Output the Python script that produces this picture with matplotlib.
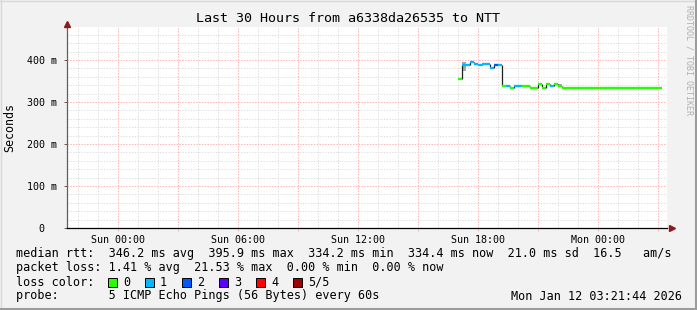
import matplotlib
matplotlib.use('Agg')
import matplotlib.pyplot as plt
import matplotlib.patches as mpatches
from matplotlib.lines import Line2D

W, H = 697, 310
MONO = 'DejaVu Sans Mono'

# median rtt in ms, one value per ~12 min step (hours since Sun 00:00)
step_start = [17.0, 17.2, 17.4, 17.6, 17.8, 18.0, 18.2, 18.4, 18.6, 18.8,
              19.0, 19.2, 19.4, 19.6, 19.8, 20.0, 20.2, 20.4, 20.6, 20.8,
              21.0, 21.2, 21.4, 21.6, 21.8, 22.0, 22.2]
step_end = 27.2
median = [355, 388, 388, 395, 390, 387, 390, 390, 382, 389,
          389, 339, 339, 334, 337, 337, 337, 337, 334, 334,
          344, 334, 344, 337, 342, 339, 334]
loss = [0, 1, 1, 1, 1, 1, 1, 1, 1, 2,
        1, 0, 1, 0, 1, 1, 0, 0, 0, 0,
        0, 0, 0, 1, 0, 0, 0]

# smoke (spread of pings) where visible
smoke_t0 = [17.2, 22.0]
smoke_t1 = [17.4, 22.2]
smoke_lo = [375, 336]
smoke_hi = [396, 342]

loss_colors = ['#26ff00', '#00b8ff', '#0059ff', '#5e00ff', '#ff0000', '#a10000']
loss_labels = ['0', '1', '2', '3', '4', '5/5']

xtick_hours = [0, 3, 6, 9, 12, 15, 18, 21, 24, 27]
xtick_labels = ['Sun 00:00', '', 'Sun 06:00', '', 'Sun 12:00', '', 'Sun 18:00', '', 'Mon 00:00', '']
ytick_vals = [0, 100, 200, 300, 400]
ytick_labels = ['  0  ', '100 m', '200 m', '300 m', '400 m']

title = 'Last 30 Hours from a6338da26535 to NTT'
row_rtt = 'median rtt:  346.2 ms avg  395.9 ms max  334.2 ms min  334.4 ms now  21.0 ms sd  16.5   am/s'
row_loss = 'packet loss: 1.41 % avg  21.53 % max  0.00 % min  0.00 % now'
row_probe = 'probe:       5 ICMP Echo Pings (56 Bytes) every 60s'
stamp = 'Mon Jan 12 03:21:44 2026'


def fx(x):
    return x / W


def fy(y):
    return 1 - y / H


fig = plt.figure(figsize=(W / 100, H / 100), dpi=100, facecolor='#f2f2f2')

# frame around the picture
fig.add_artist(Line2D([0, 1], [fy(0.5), fy(0.5)], color='#d8d8d8', lw=1.0))
fig.add_artist(Line2D([fx(0.5), fx(0.5)], [0, 1], color='#d8d8d8', lw=1.0))
fig.add_artist(Line2D([0, 1], [fy(308.5), fy(308.5)], color='#9c9c9c', lw=2.2))
fig.add_artist(Line2D([fx(695.5), fx(695.5)], [0, 1], color='#9c9c9c', lw=2.2))

ax = fig.add_axes([fx(67), fy(228), 600 / W, 201 / H])
ax.set_facecolor('white')
ax.set_xlim(-2.55, 27.45)
ax.set_ylim(0, 201 / 0.42)

# grid
dot = (0, (1.4, 1.4))
major_c = '#ffb4b4'
minor_c = '#e0e0e0'
for h in range(-2, 28):
    if h % 3 == 0:
        ax.axvline(h, color=major_c, lw=0.72, ls=dot, zorder=1)
    else:
        ax.axvline(h, color=minor_c, lw=0.72, ls=dot, zorder=0.9)
for v in range(20, 480, 20):
    if v % 100 == 0:
        ax.axhline(v, color=major_c, lw=0.72, ls=dot, zorder=1)
    else:
        ax.axhline(v, color=minor_c, lw=0.72, ls=dot, zorder=0.9)

# smoke
for t0, t1, lo, hi in zip(smoke_t0, smoke_t1, smoke_lo, smoke_hi):
    ax.fill_between([t0, t1], lo, hi, color='#a8a8a8', lw=0, zorder=2)

# median line: black risers, loss coloured steps
ends = step_start[1:] + [step_end]
for i in range(1, len(median)):
    ax.vlines(step_start[i], median[i - 1], median[i], color='#202020', lw=0.9, zorder=3)
for t0, t1, m, l in zip(step_start, ends, median, loss):
    ax.hlines(m, t0, t1, color=loss_colors[l], lw=1.7, zorder=4)

# axes
for s in ['top', 'right']:
    ax.spines[s].set_visible(False)
ax.spines['left'].set_color('#606060')
ax.spines['left'].set_linewidth(0.9)
ax.spines['bottom'].set_color('#000000')
ax.spines['bottom'].set_linewidth(0.9)
ax.plot([0], [1 + 3 / 201], marker='^', ms=5, color='#8b1a1a', transform=ax.transAxes, clip_on=False, zorder=6)
ax.plot([1 + 5 / 600], [0], marker='>', ms=5, color='#8b1a1a', transform=ax.transAxes, clip_on=False, zorder=6)

ax.set_xticks(xtick_hours)
ax.set_xticklabels(xtick_labels, fontfamily=MONO, fontsize=7.2)
ax.set_yticks(ytick_vals)
ax.set_yticklabels(ytick_labels, fontfamily=MONO, fontsize=7.2)
ax.tick_params(axis='x', length=2, width=0.7, color=major_c, pad=3)
ax.tick_params(axis='y', length=2, width=0.7, color='#606060', pad=5)

fig.text(fx(10), fy(128), 'Seconds', rotation=90, ha='center', va='center', fontfamily=MONO, fontsize=8.4)
fig.text(fx(348), fy(19), title, ha='center', va='center', fontfamily=MONO, fontsize=9.6)
fig.text(fx(689), fy(60), 'RRDTOOL / TOBI OETIKER', rotation=270, ha='center', va='center',
         fontfamily=MONO, fontsize=6.0, color='#b0b0b0')

# legend
fig.text(fx(16), fy(254), row_rtt, ha='left', va='center', fontfamily=MONO, fontsize=8.5)
fig.text(fx(16), fy(268), row_loss, ha='left', va='center', fontfamily=MONO, fontsize=8.5)
fig.text(fx(16), fy(282), 'loss color:', ha='left', va='center', fontfamily=MONO, fontsize=8.5)
for i, (c, lab) in enumerate(zip(loss_colors, loss_labels)):
    x0 = 108 + i * 37
    fig.add_artist(mpatches.Rectangle((fx(x0), fy(286.5)), 8.5 / W, 9 / H, facecolor=c,
                                      edgecolor='black', lw=0.7, transform=fig.transFigure))
    fig.text(fx(x0 + 15), fy(282), lab, ha='left', va='center', fontfamily=MONO, fontsize=8.5)
fig.text(fx(16), fy(296), row_probe, ha='left', va='center', fontfamily=MONO, fontsize=8.5)
fig.text(fx(682), fy(296), stamp, ha='right', va='center', fontfamily=MONO, fontsize=8.5)

fig.savefig('out.png', dpi=100, facecolor=fig.get_facecolor())
